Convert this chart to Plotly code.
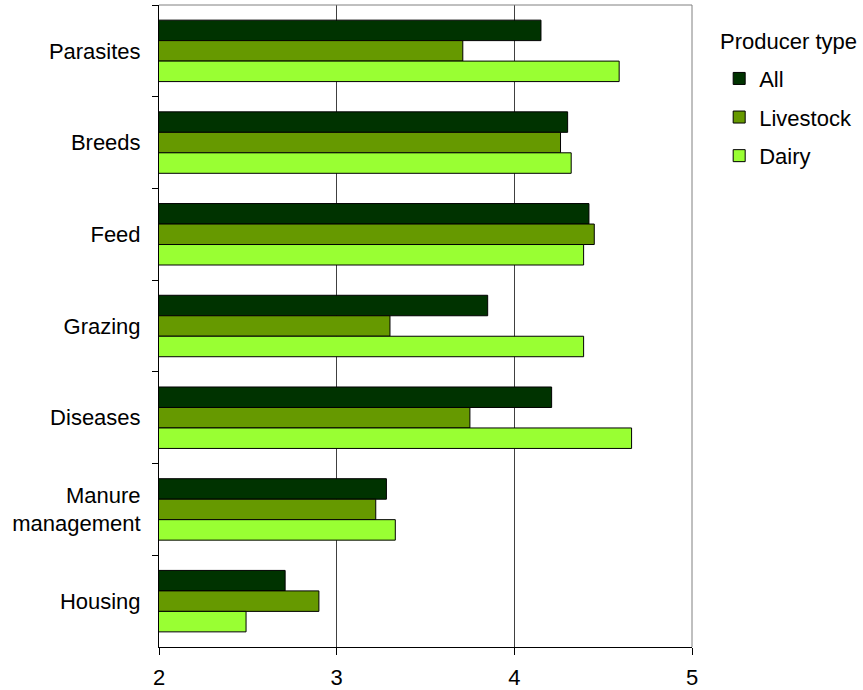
import plotly.graph_objects as go

# Mean importance scores by topic and producer type
topics = ["Parasites", "Breeds", "Feed", "Grazing", "Diseases",
          "Manure<br>management", "Housing"]
all_producers = [4.15, 4.30, 4.42, 3.85, 4.21, 3.28, 2.71]
livestock = [3.71, 4.26, 4.45, 3.30, 3.75, 3.22, 2.90]
dairy = [4.59, 4.32, 4.39, 4.39, 4.66, 3.33, 2.49]

x_ticks = [2, 3, 4, 5]
legend_title = "Producer type"

series = [
    ("All", all_producers, "#003300"),
    ("Livestock", livestock, "#669900"),
    ("Dairy", dairy, "#99FF33"),
]

FONT = "Liberation Sans"
SIZE = 22

fig = go.Figure()
for name, vals, color in series:
    fig.add_trace(go.Bar(
        name=name,
        y=topics,
        x=vals,
        orientation="h",
        marker=dict(color=color, line=dict(color="black", width=1)),
        legendgroup=name,
    ))

fig.update_layout(
    width=863,
    height=690,
    margin=dict(l=159, r=171, t=5, b=43, autoexpand=False),
    paper_bgcolor="white",
    plot_bgcolor="white",
    barmode="group",
    bargap=0.33,
    bargroupgap=0,
    font=dict(family=FONT, size=SIZE, color="black"),
    legend=dict(
        x=1.051, xanchor="left",
        y=0.918, yanchor="top",
        traceorder="grouped",
        tracegroupgap=7,
        font=dict(family=FONT, size=SIZE),
        bgcolor="rgba(0,0,0,0)",
    ),
    xaxis=dict(
        range=[2, 5],
        tickvals=x_ticks,
        ticktext=[str(t) for t in x_ticks],
        showgrid=True,
        gridcolor="#404040",
        gridwidth=1,
        showline=True,
        linecolor="black",
        linewidth=1,
        ticks="outside",
        ticklen=7,
        tickcolor="black",
        ticklabelstandoff=4,
        zeroline=False,
        automargin=False,
        fixedrange=True,
    ),
    yaxis=dict(
        categoryorder="array",
        categoryarray=topics,
        autorange="reversed",
        showgrid=False,
        showline=True,
        linecolor="black",
        linewidth=1,
        ticks="outside",
        tickson="boundaries",
        ticklen=6,
        tickcolor="black",
        ticklabelstandoff=13,
        automargin=False,
        fixedrange=True,
    ),
)

# Legend heading
fig.add_annotation(
    text=legend_title, xref="paper", yref="paper",
    x=1.049, y=0.943, xanchor="left", yanchor="middle",
    showarrow=False, font=dict(family=FONT, size=SIZE),
)

# Gray frame on the top and right edges of the plotting area
fig.add_shape(type="line", xref="paper", yref="paper",
              x0=0, x1=1, y0=1, y1=1, line=dict(color="#808080", width=1))
fig.add_shape(type="line", xref="paper", yref="paper",
              x0=1, x1=1, y0=0, y1=1, line=dict(color="#808080", width=1))

fig.write_html("out.html")
